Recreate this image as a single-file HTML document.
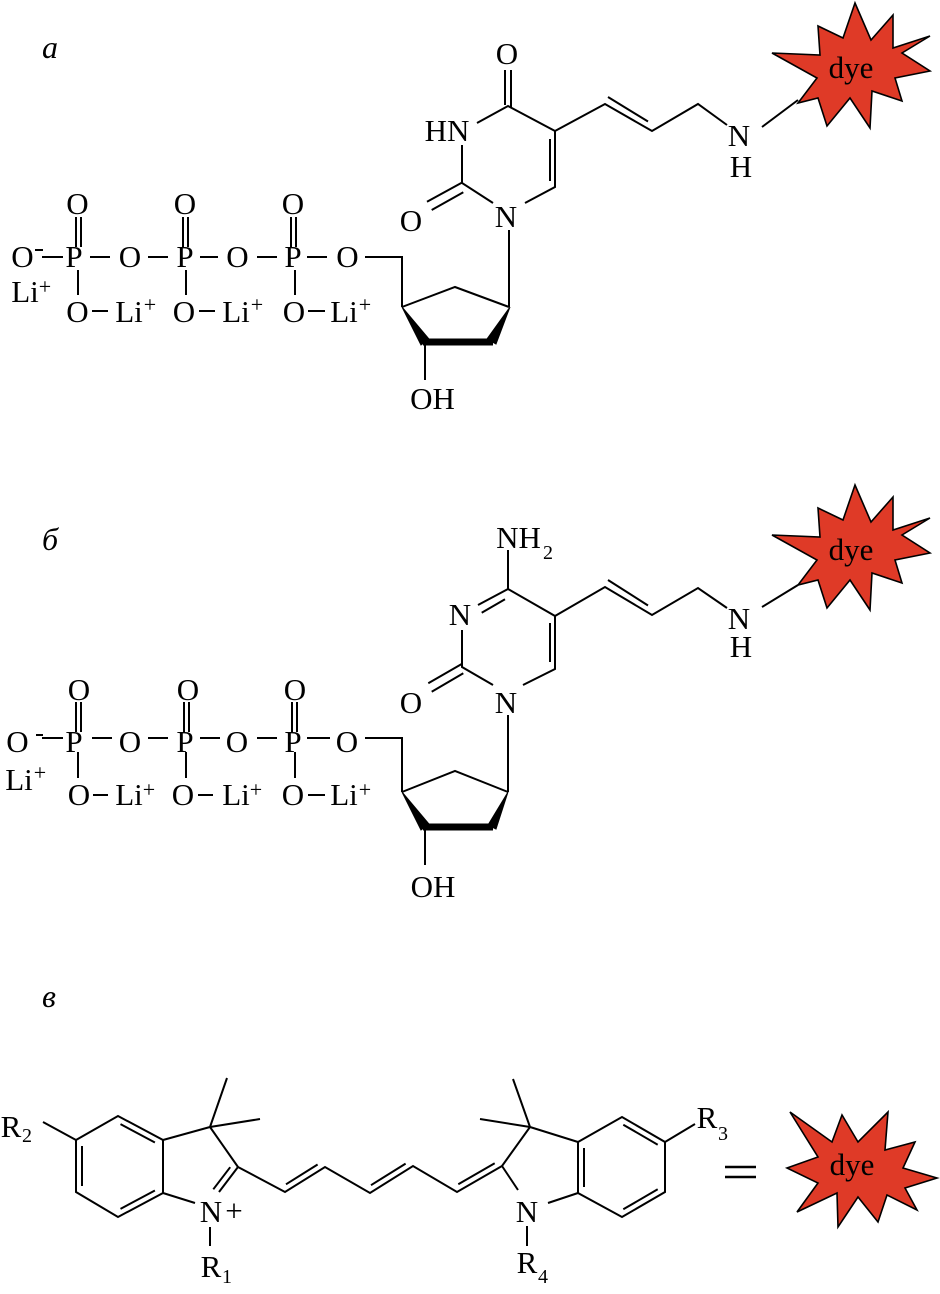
<!DOCTYPE html>
<html><head><meta charset="utf-8"><style>
html,body{margin:0;padding:0;background:#fff;}
svg{display:block;}
text{font-family:"Liberation Serif","Times New Roman",serif;fill:#000;}
</style></head><body>
<svg width="940" height="1294" viewBox="0 0 940 1294" xmlns="http://www.w3.org/2000/svg">
<rect x="0" y="0" width="940" height="1294" fill="#fff"/>

<!-- labels -->
<g font-size="32" font-style="italic">
<text x="42" y="58">а</text>
<text x="42" y="550">б</text>
<text x="42" y="1007">в</text>
</g>

<!-- stars -->
<g fill="#df3a27" stroke="#000" stroke-width="1.6" stroke-linejoin="miter">
<polygon points="855,3 871,40 893,15 893,48 930,36 902,53 930,71 895,78 902,101 872,91 870,128 850,98 827,126 818,98 798,103 817,78 772,53 820,55 818,26 843,38"/>
<polygon points="855,485 871,522 893,497 893,530 930,518 902,535 930,553 895,560 902,583 872,573 870,610 850,580 827,608 818,580 798,585 817,560 772,535 820,537 818,508 843,520"/>
<polygon points="790,1112 832,1142 842,1115 858,1142 888,1112 885,1150 915,1142 903,1168 937,1178 905,1188 917,1210 887,1195 878,1222 858,1197 838,1227 837,1193 797,1212 818,1183 787,1168 818,1157"/>
</g>

<g stroke="#000" stroke-width="2" fill="none">
<!-- ===== a: phosphates ===== -->
<path d="M42 257H63 M35 250H43 M76 217V247 M81 217V247 M78 270V295 M92 311H108 M90 257H110 M148 257H168 M183 217V247 M188 217V247 M186 270V295 M199 311H215 M200 257H218 M257 257H277 M291 217V247 M296 217V247 M295 270V295 M308 311H325 M307 257H327 M365 257H402V307"/>
<!-- a: sugar -->
<path d="M402 307L455 287L509 307 M425 342V380 M509 230V307"/>
<!-- a: ring -->
<path d="M505 70V105 M511 70V107 M477 123L508 106L555 131V187L525 203 M550 139V181 M493 203L462 183V145 M427 201.7L461.7 182.7 M431.7 210L463.3 192.3"/>
<path d="M555 131L605 104L652 131L698 104L727 125 M608 97L648 121.5 M762 127L798 100"/>

<!-- ===== b: phosphates ===== -->
<path d="M42 738H63 M36 735H43 M76 702V732 M81 702V732 M78 752V778 M93 795H108 M92 738H112 M148 738H168 M184 702V732 M189 702V732 M186 752V778 M198 795H213 M200 738H220 M257 738H277 M292 702V732 M297 702V732 M295 752V778 M308 795H325 M307 738H330 M365 738H402V792"/>
<!-- b: sugar -->
<path d="M402 792L455 771L508 792 M425 827V865 M508 715V792"/>
<!-- b: ring -->
<path d="M508 550V589 M508 589L478 605 M481.7 612.7L505 599.3 M508 589L555 616V669L523 685 M550 623V662 M493 685L462 667V630 M428.3 683.3L461.7 664 M431.7 691.7L463.3 673.3"/>
<path d="M555 616L605 587L652 615L698 588L727 608 M608 580L648 605.5 M762 607L798 585"/>

<!-- ===== c: cyanine ===== -->
<path d="M43 1122L76 1140 M76 1140L118 1116L163 1140V1193L118 1217L76 1192Z M120.5 1124.1L154.9 1142.5 M82 1146V1186 M120.5 1208.9L154.9 1190.5"/>
<path d="M163 1140L210 1127 M210 1127L227 1078 M210 1127L260 1119 M210 1127L238 1167 M238 1167L219 1192 M230.2 1167.2L213.3 1189.3 M163 1193L195 1203 M210 1227V1246"/>
<path d="M238 1167L285 1192L325 1167L370 1193L413 1166L457 1192L502 1166 M286 1184.3L317.6 1164.5 M371 1185.2L405.6 1163.6 M458.3 1184.3L494.7 1163.3"/>
<path d="M502 1166L530 1127 M530 1127L513 1079 M530 1127L480 1119 M530 1127L578 1142 M502 1166L518 1190 M548 1203L578 1193 M527 1226V1246"/>
<path d="M578 1142L622 1117L665 1142V1192L622 1217L578 1193Z M584 1148V1187 M623.3 1124.7L657.7 1144.7 M657.7 1189.3L623.3 1209.3 M665 1142L695 1124"/>
<path d="M725 1167H756 M725 1177H756" stroke-width="2.4"/>
</g>

<!-- wedges & bold bonds -->
<g fill="#000" stroke="#000" stroke-width="1">
<polygon points="402,307 429,339 421,345"/>
<polygon points="510,307 496,344 487,339"/>
<polygon points="402,792 429,824 421,830"/>
<polygon points="508,792 496,829 488,825"/>
</g>
<g stroke="#000" stroke-width="7">
<path d="M423 342H493"/>
<path d="M423 827H493"/>
</g>

<!-- texts -->
<g font-size="31" text-anchor="middle">
<!-- a -->
<text x="22.5" y="267">O</text>
<text x="74" y="267">P</text>
<text x="130" y="267">O</text>
<text x="185" y="267">P</text>
<text x="237.5" y="267">O</text>
<text x="293" y="267">P</text>
<text x="347.5" y="267">O</text>
<text x="77.5" y="214">O</text>
<text x="185" y="214">O</text>
<text x="293" y="214">O</text>
<text x="77.5" y="322">O</text>
<text x="184" y="322">O</text>
<text x="294" y="322">O</text>
<text x="129" y="322">Li</text>
<text x="236" y="322">Li</text>
<text x="344" y="322">Li</text>
<text x="25" y="302">Li</text>
<text x="432.5" y="409">OH</text>
<text x="507" y="64">O</text>
<text x="447" y="141">HN</text>
<text x="411" y="231">O</text>
<text x="506" y="227">N</text>
<text x="739" y="146">N</text>
<text x="741" y="177">H</text>
<text x="851" y="78">dye</text>
<!-- b -->
<text x="17.5" y="752">O</text>
<text x="74" y="752">P</text>
<text x="130" y="752">O</text>
<text x="185" y="752">P</text>
<text x="237" y="752">O</text>
<text x="293" y="752">P</text>
<text x="347" y="752">O</text>
<text x="79" y="700">O</text>
<text x="188" y="700">O</text>
<text x="295" y="700">O</text>
<text x="79" y="805">O</text>
<text x="183" y="805">O</text>
<text x="293" y="805">O</text>
<text x="129" y="805">Li</text>
<text x="236" y="805">Li</text>
<text x="344" y="805">Li</text>
<text x="19" y="790">Li</text>
<text x="433" y="897">OH</text>
<text x="518.5" y="548">NH</text>
<text x="460" y="625">N</text>
<text x="411" y="713">O</text>
<text x="506" y="713">N</text>
<text x="739" y="629">N</text>
<text x="741" y="657">H</text>
<text x="851" y="560">dye</text>
<!-- c -->
<text x="11" y="1137">R</text>
<text x="211" y="1222">N</text>
<text x="234" y="1221">+</text>
<text x="211" y="1277">R</text>
<text x="527" y="1222">N</text>
<text x="527" y="1273">R</text>
<text x="707" y="1128">R</text>
<text x="852" y="1175">dye</text>
</g>

<!-- superscripts / subscripts -->
<g font-size="22" text-anchor="middle">
<text x="150" y="312">+</text>
<text x="257" y="312">+</text>
<text x="365" y="312">+</text>
<text x="45" y="294">+</text>
<text x="149" y="797">+</text>
<text x="256" y="797">+</text>
<text x="365" y="797">+</text>
<text x="40" y="780">+</text>
</g>
<g font-size="20" text-anchor="middle">
<text x="548" y="559">2</text>
<text x="27" y="1142">2</text>
<text x="227" y="1283">1</text>
<text x="543" y="1283">4</text>
<text x="723" y="1140">3</text>
</g>
</svg>
</body></html>
